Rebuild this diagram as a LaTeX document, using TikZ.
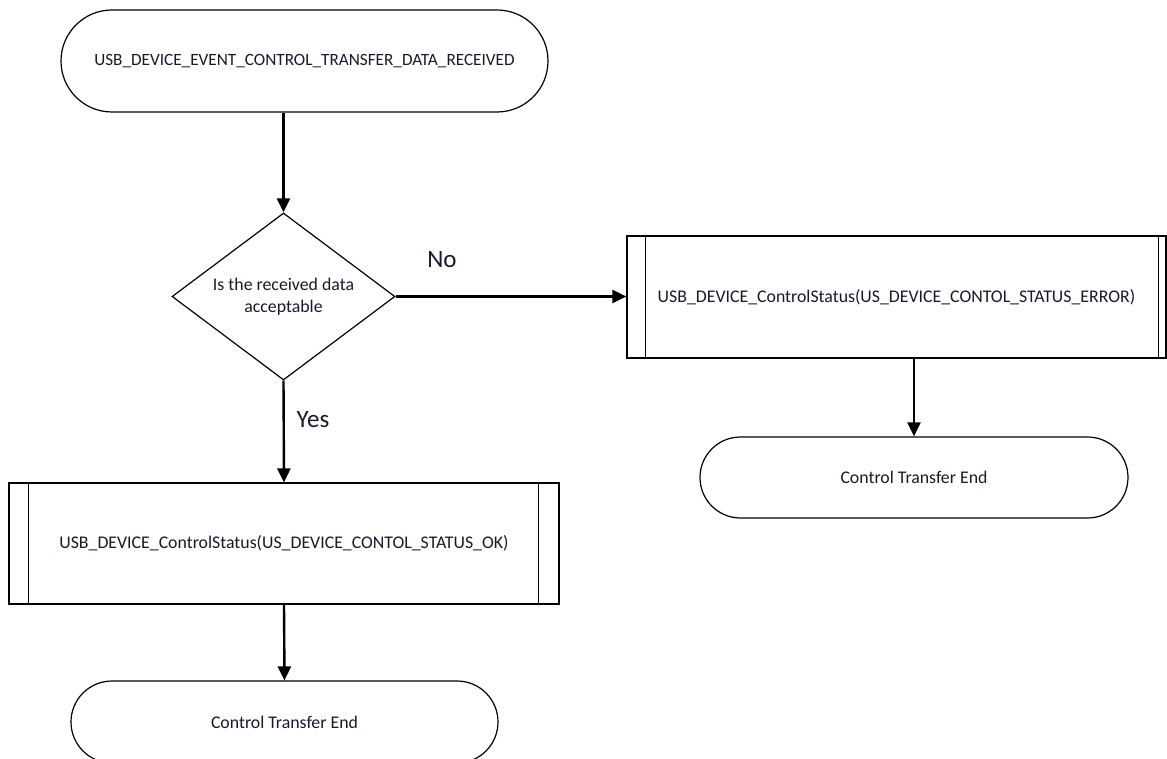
\documentclass[tikz,border=0pt]{standalone}
\usepackage{fontspec}
\setmainfont{Carlito}
\usetikzlibrary{shapes.geometric,arrows.meta}
\definecolor{txt}{RGB}{25,25,45}
\begin{document}
\begin{tikzpicture}[x=1pt,y=-1pt,
  every node/.style={font=\fontsize{17.8}{21.7}\selectfont, text=txt, inner sep=0pt},
  shapeline/.style={draw=black, line width=1.2pt},
  startbox/.style={shapeline, rectangle, rounded corners=51pt, minimum width=487pt, minimum height=102pt},
  endbox/.style={shapeline, rectangle, rounded corners=40.5pt, minimum width=428pt, minimum height=81pt},
  procbox/.style={shapeline, rectangle},
  decision/.style={shapeline, diamond, shape aspect=1.335, minimum width=223pt, minimum height=167pt, align=center},
  flow/.style={draw=black, line width=2.4pt, -{Triangle[length=14pt,width=13pt]}},
  edgelabel/.style={font=\fontsize{25}{30}\selectfont}
]
\useasboundingbox (0,0) rectangle (1167,759);
\fill[white] (0,0) rectangle (1167,759);

\node[startbox, font=\fontsize{17.2}{21}\selectfont] (start) at (304.5,61) {USB\_DEVICE\_EVENT\_CONTROL\_TRANSFER\_DATA\_RECEIVED};
\node[decision] (dec) at (283.5,296.5) {Is the received data\\acceptable};
\node[procbox, minimum width=539pt, minimum height=122pt] (err) at (896.5,297)
  {USB\_DEVICE\_ControlStatus(US\_DEVICE\_CONTOL\_STATUS\_ERROR)};
\node[endbox] (endr) at (914,477.5) {Control Transfer End};
\node[procbox, minimum width=550pt, minimum height=121pt] (ok) at (284,543.5)
  {USB\_DEVICE\_ControlStatus(US\_DEVICE\_CONTOL\_STATUS\_OK)};
\node[endbox, minimum width=427pt, minimum height=82pt, rounded corners=41pt] (endl) at (284.5,722) {Control Transfer End};

% inner vertical lines of the predefined-process boxes
\draw[line width=1.2pt] ([xshift=19pt]err.north west) -- ([xshift=19pt]err.south west);
\draw[line width=1.2pt] ([xshift=-8pt]err.north east) -- ([xshift=-8pt]err.south east);
\draw[line width=1.2pt] ([xshift=20pt]ok.north west) -- ([xshift=20pt]ok.south west);
\draw[line width=1.2pt] ([xshift=-21pt]ok.north east) -- ([xshift=-21pt]ok.south east);

% connectors
\draw[flow] (start.south -| dec.north) -- (dec.north);
\draw[flow] (dec.east) -- (dec.east -| err.west);
\draw[flow] (dec.south) -- (ok.north);
\draw[flow] (err.south -| endr.north) -- (endr.north);
\draw[flow] (ok.south) -- (endl.north);

\node[edgelabel] (no) at (442,260) {No};
\node[edgelabel] (yes) at (313,420) {Yes};
\end{tikzpicture}
\end{document}
